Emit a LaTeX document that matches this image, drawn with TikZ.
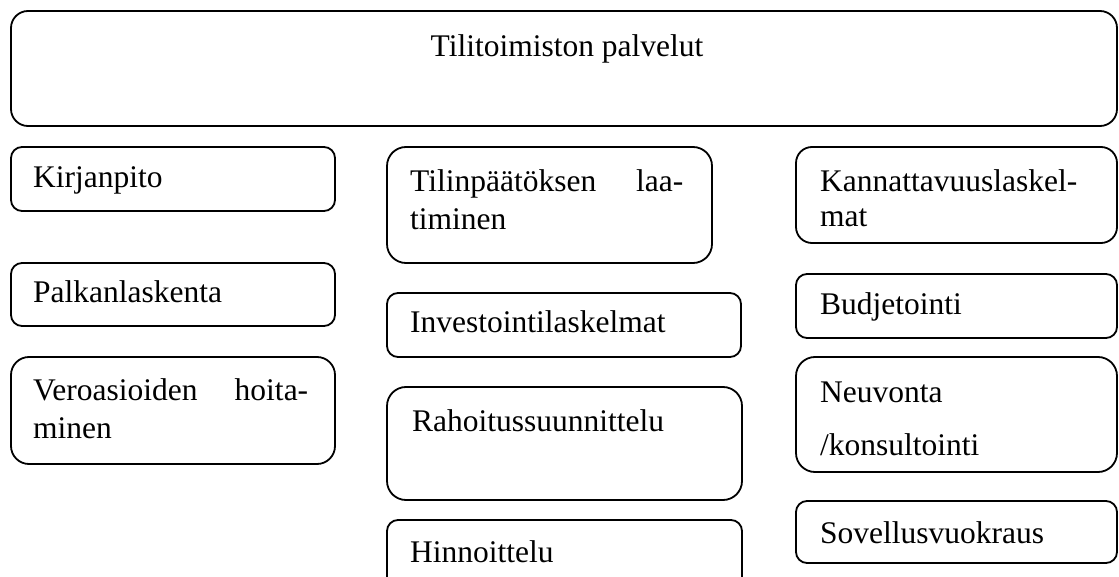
\documentclass[tikz,border=0pt]{standalone}
\usepackage{fontspec}
\setmainfont{Liberation Serif}
\usepackage{tikz}

\begin{document}
\begin{tikzpicture}[x=1pt, y=1pt,
    box/.style={draw, line width=1.8pt, rounded corners=#1, anchor=north west,
        inner sep=0pt, outer sep=0pt},
    box/.default=11pt,
    txt/.style={anchor=base west, inner sep=0pt, font=\fontsize{31.5}{38}\selectfont},
    par/.style={txt, text width=#1, align=left}]
    \useasboundingbox (0,0) rectangle (1119,-577);
    \clip (0,0) rectangle (1119,-577);

    % Draw the top box
    \node[box=17pt, minimum width=1106pt, minimum height=115pt] (palvelut) at (11,-11) {};
    \node[txt, anchor=base] (palvelutT) at (567,-57) {Tilitoimiston palvelut};

    % Draw the left column
    \node[box, minimum width=324pt, minimum height=64pt] (kirjanpito) at (11,-147) {};
    \node[box, minimum width=324pt, minimum height=63pt] (palkka) at (11,-263) {};
    \node[box=18pt, minimum width=324pt, minimum height=107pt] (vero) at (11,-357) {};
    \node[txt] (kirjanpitoT) at (33,-188) {Kirjanpito};
    \node[txt] (palkkaT) at (33,-303) {Palkanlaskenta};
    \node[par=275pt] (veroT) at (33,-400) {Veroasioiden\hfill hoita-\\minen};

    % Draw the middle column
    \node[box=19pt, minimum width=325pt, minimum height=116pt] (tilinpaatos) at (387,-147) {};
    \node[box, minimum width=354pt, minimum height=64pt] (investointi) at (387,-293) {};
    \node[box=19pt, minimum width=355pt, minimum height=113pt] (rahoitus) at (387,-387) {};
    \node[box, minimum width=355pt, minimum height=80pt] (hinnoittelu) at (387,-520) {};
    \node[par=273pt] (tilinpaatosT) at (410,-192) {Tilinpäätöksen\hfill laa-\\timinen};
    \node[txt] (investointiT) at (410,-333) {Investointilaskelmat};
    \node[txt] (rahoitusT) at (412,-431) {Rahoitussuunnittelu};
    \node[txt] (hinnoitteluT) at (410,-562) {Hinnoittelu};

    % Draw the right column
    \node[box=16pt, minimum width=321pt, minimum height=96pt] (kannattavuus) at (796,-147) {};
    \node[box, minimum width=321pt, minimum height=64pt] (budjetointi) at (796,-274) {};
    \node[box=19pt, minimum width=321pt, minimum height=115pt] (neuvonta) at (796,-357) {};
    \node[box, minimum width=321pt, minimum height=62pt] (sovellus) at (796,-501) {};
    \node[par=285pt, font=\fontsize{31.5}{35}\selectfont] (kannattavuusT) at (820,-192) {Kannattavuuslaskel-\\mat};
    \node[txt] (budjetointiT) at (820,-315) {Budjetointi};
    \node[par=285pt, font=\fontsize{31.5}{53}\selectfont] (neuvontaT) at (820,-402) {Neuvonta\\/konsultointi};
    \node[txt] (sovellusT) at (820,-543) {Sovellusvuokraus};
\end{tikzpicture}
\end{document}
